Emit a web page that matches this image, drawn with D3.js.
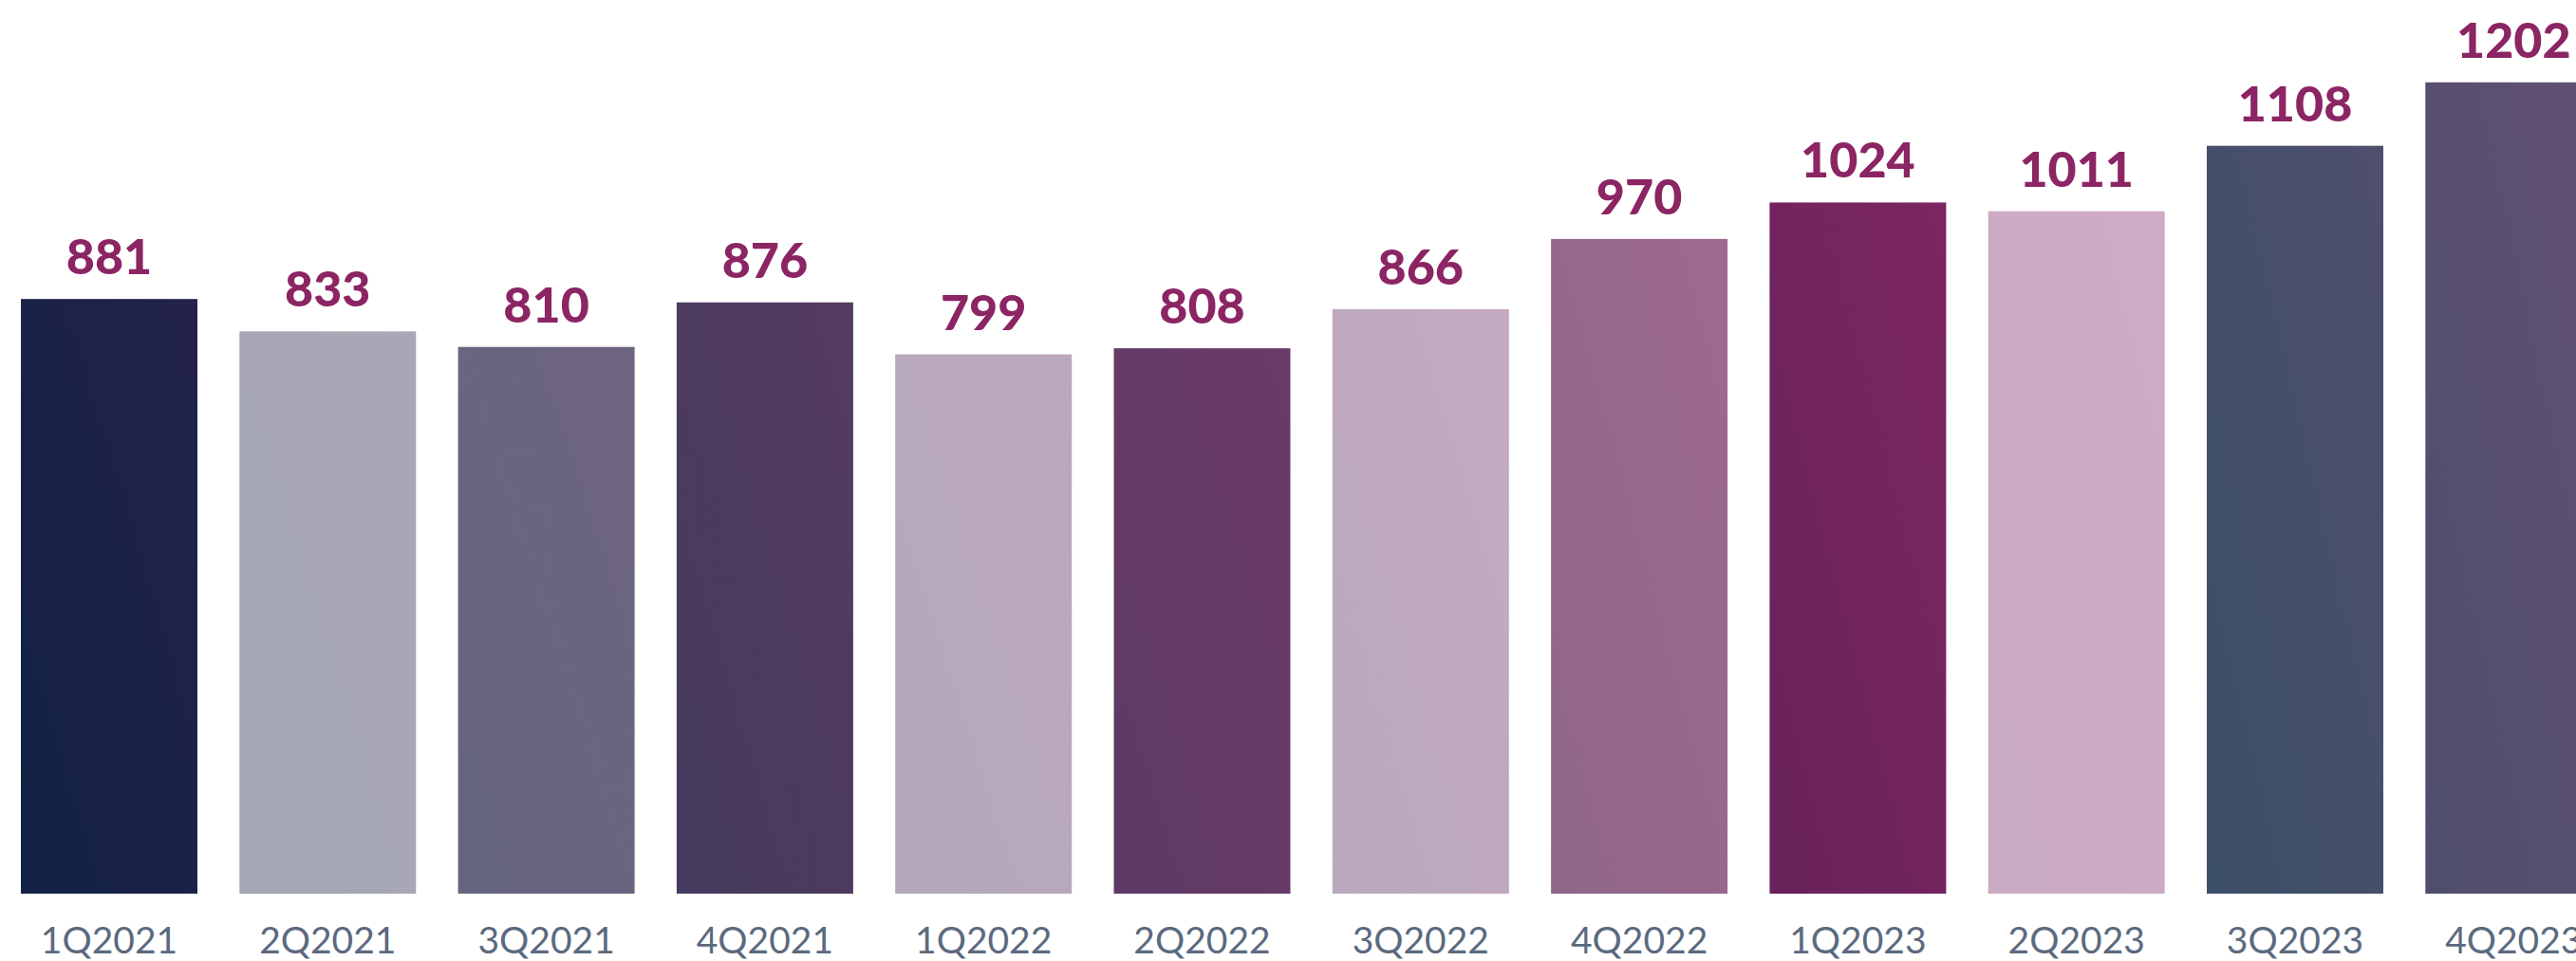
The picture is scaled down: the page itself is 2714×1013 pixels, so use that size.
<!DOCTYPE html>
<html>
<head>
<meta charset="utf-8">
<script src="https://cdn.jsdelivr.net/npm/d3@7"></script>
<style>
    html, body { margin: 0; padding: 0; background: #ffffff; }
    #chart { width: 2714px; height: 1013px; overflow: hidden; }
    .xaxis text { font-family: Lato, 'Noto Sans', sans-serif; font-size: 39px; fill: #5b6a7f; }
    .valor { font-family: Lato, 'Noto Sans', sans-serif; font-size: 52px; font-weight: 900; fill: #8c2564; }
</style>
</head>
<body>
<div id="chart"></div>
<script>
//Datos
const trimestres = ['1Q2021','2Q2021','3Q2021','4Q2021','1Q2022','2Q2022','3Q2022','4Q2022','1Q2023','2Q2023','3Q2023','4Q2023'];
const valores = [881, 833, 810, 876, 799, 808, 866, 970, 1024, 1011, 1108, 1202];

//Colores de cada barra (abajo-izquierda -> arriba-derecha)
const COLORES_INICIO = ['#122244','#a3a8b4','#656580','#443b5e','#b3a8bb','#5e3a66','#b9a8bd','#8f6689','#68225a','#c8aac2','#3c4f68','#4f4e6d'];
const COLORES_FIN = ['#23224a','#aba6b5','#6e6480','#553a60','#bca7bd','#6b3a67','#c4aac0','#9d6a8e','#7c2662','#cfaac5','#4e4f6c','#615074'];

let margin = {top: 0, right: 0, bottom: 0, left: 0},
    width = 2714 - margin.left - margin.right,
    height = 1013 - margin.top - margin.bottom;

let svg = d3.select('#chart')
    .append('svg')
      .attr('width', width + margin.left + margin.right)
      .attr('height', height + margin.top + margin.bottom)
    .append('g')
      .attr('transform', 'translate(' + margin.left + ',' + margin.top + ')');

let baseY = 942;

let x = d3.scaleBand()
    .domain(trimestres)
    .range([22, 2741.3])
    .paddingInner(0.1924)
    .paddingOuter(0);

let y = d3.scaleLinear()
    .domain([0, 1324])
    .range([baseY, 0]);

//Gradientes
let defs = svg.append('defs');
trimestres.forEach(function(d, i) {
    let grad = defs.append('linearGradient')
        .attr('id', 'grad' + i)
        .attr('x1', 0).attr('y1', 1)
        .attr('x2', 1).attr('y2', 0);
    grad.append('stop').attr('offset', '0%').attr('stop-color', COLORES_INICIO[i]);
    grad.append('stop').attr('offset', '100%').attr('stop-color', COLORES_FIN[i]);
});

//Barras
svg.append('g')
    .selectAll('rect')
    .data(valores)
    .enter()
    .append('rect')
      .attr('x', function(d, i) { return x(trimestres[i]); })
      .attr('y', function(d) { return y(d); })
      .attr('width', x.bandwidth())
      .attr('height', function(d) { return y(0) - y(d); })
      .attr('fill', function(d, i) { return 'url(#grad' + i + ')'; });

//Etiquetas de valor
svg.append('g')
    .selectAll('text')
    .data(valores)
    .enter()
    .append('text')
      .attr('class', 'valor')
      .attr('x', function(d, i) { return x(trimestres[i]) + x.bandwidth() / 2; })
      .attr('y', function(d) { return y(d) - 26; })
      .attr('text-anchor', 'middle')
      .text(function(d) { return d; });

//Eje X
svg.append('g')
    .attr('class', 'xaxis')
    .attr('transform', 'translate(0,' + baseY + ')')
    .call(d3.axisBottom(x).tickSize(0).tickPadding(35))
    .call(function(g) { g.select('.domain').remove(); })
    .call(function(g) { g.selectAll('text').attr('font-family', null).attr('font-size', null); });
</script>
</body>
</html>
